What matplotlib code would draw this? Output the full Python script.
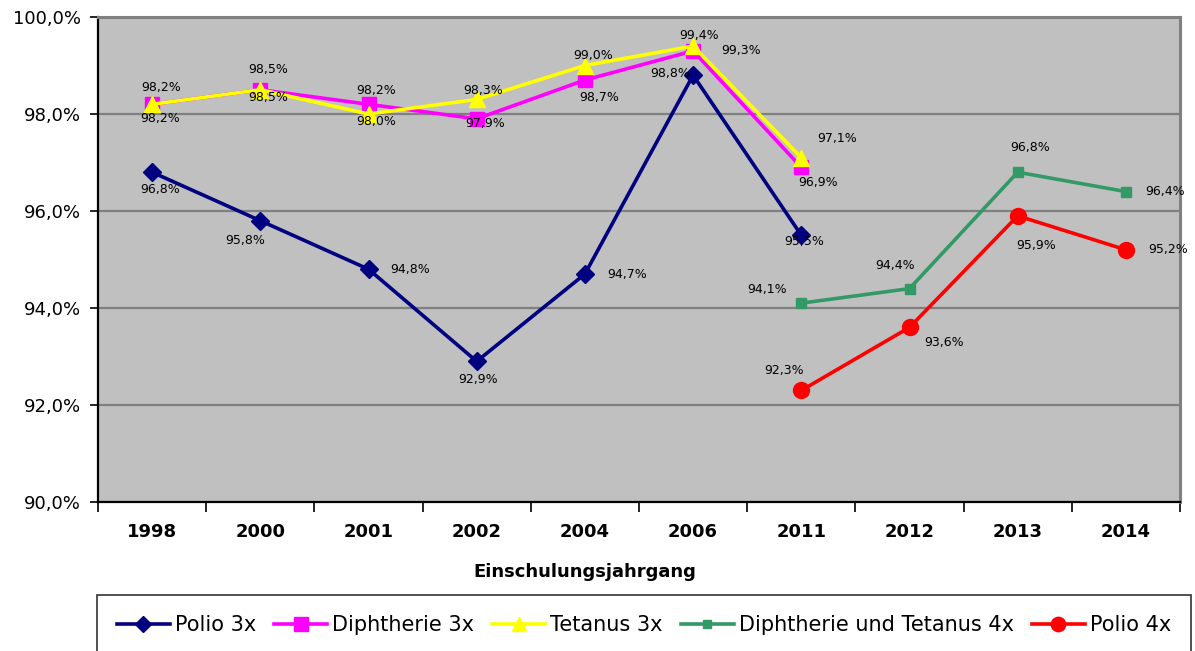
import numpy as np
import matplotlib
matplotlib.use("Agg")
import matplotlib.pyplot as plt
from matplotlib.ticker import FixedLocator

plt.rcParams['font.family'] = ['DejaVu Sans']

years = ["1998", "2000", "2001", "2002", "2004", "2006", "2011", "2012", "2013", "2014"]
nan = np.nan
polio3 = [96.8, 95.8, 94.8, 92.9, 94.7, 98.8, 95.5, nan, nan, nan]
diph3 = [98.2, 98.5, 98.2, 97.9, 98.7, 99.3, 96.9, nan, nan, nan]
tet3 = [98.2, 98.5, 98.0, 98.3, 99.0, 99.4, 97.1, nan, nan, nan]
dt4 = [nan, nan, nan, nan, nan, nan, 94.1, 94.4, 96.8, 96.4]
polio4 = [nan, nan, nan, nan, nan, nan, 92.3, 93.6, 95.9, 95.2]
series_names = ["Polio 3x", "Diphtherie 3x", "Tetanus 3x", "Diphtherie und Tetanus 4x", "Polio 4x"]
y_ticks = [90, 92, 94, 96, 98, 100]

# label offsets in pixels (dx, dy up)
off_polio3 = [(8, -17), (-15, -20), (42, 0), (1, -18), (42, 0), (-23, 2), (3, -6)]
off_diph3 = [(9, 17), (8, 20), (8, 14), (8, -5), (14, -17), (48, 0), (17, -15)]
off_tet3 = [(8, -14), (8, -8), (8, -8), (6, 9), (8, 10), (6, 11), (36, 19)]
off_dt4 = [(-34, 14), (-14, 23), (12, 25), (39, 0)]
off_polio4 = [(-17, 20), (35, -15), (18, -30), (42, 0)]

fig = plt.figure(figsize=(11.95, 6.51), dpi=100)
ax = fig.add_axes([98/1195, 1-502/651, (1180-98)/1195, (502-17)/651])
ax.set_facecolor("#C0C0C0")

x = np.arange(len(years))
styles = [
    (polio3, "#000080", "D", 9, off_polio3),
    (diph3, "#FF00FF", "s", 10.5, off_diph3),
    (tet3, "#FFFF00", "^", 11, off_tet3),
    (dt4, "#339966", "s", 6.5, off_dt4),
    (polio4, "#FF0000", "o", 11.5, off_polio4),
]
handles = []
for (vals, col, mk, ms, offs), name in zip(styles, series_names):
    h, = ax.plot(x, vals, color=col, marker=mk, markersize=ms, lw=2.6,
                 markeredgecolor=col, label=name, zorder=3)
    handles.append(h)
    valid = [(i, v) for i, v in enumerate(vals) if not np.isnan(v)]
    for (i, v), (dx, dy) in zip(valid, offs):
        ax.annotate(f"{v:.1f}%".replace(".", ","), (i, v), xytext=(dx, dy),
                    textcoords="offset pixels", ha="center", va="center",
                    fontsize=9, color="black", zorder=5)

ax.set_xlim(-0.5, len(years) - 0.5)
ax.set_ylim(90, 100)
ax.yaxis.set_major_locator(FixedLocator(y_ticks))
ax.set_yticklabels([f"{t:.1f}%".replace(".", ",") for t in y_ticks], fontsize=13)
ax.grid(axis="y", color="#808080", lw=1.6, zorder=1)
ax.set_axisbelow(True)

ax.set_xticks(x)
ax.set_xticklabels(years, fontsize=13, fontweight="bold")
ax.xaxis.set_minor_locator(FixedLocator(np.arange(-0.5, len(years), 1.0)))
ax.tick_params(axis="x", which="major", length=0, pad=15)
ax.tick_params(axis="x", which="minor", length=7, width=1.2, direction="out")
ax.tick_params(axis="y", which="major", length=5.5, width=1.2, direction="out", pad=7)

for s in ["left", "bottom"]:
    ax.spines[s].set_color("black")
    ax.spines[s].set_linewidth(1.6)
for s in ["top", "right"]:
    ax.spines[s].set_color("#808080")
    ax.spines[s].set_linewidth(2.2)

fig.text(585/1195, 1-572/651, "Einschulungsjahrgang", ha="center", va="center",
         fontsize=13, fontweight="bold")

leg = fig.legend(handles=handles, loc="upper left", bbox_to_anchor=(97/1195, 1-595/651),
                 ncol=5, fontsize=15, frameon=True, fancybox=False, edgecolor="black",
                 handlelength=2.55, handletextpad=0.25, columnspacing=0.85,
                 borderpad=0.95, borderaxespad=0)
leg.get_frame().set_linewidth(1.2)
for lh in leg.legend_handles:
    lh.set_markersize(lh.get_markersize() * 0.9)

fig.savefig("out.png", dpi=100)
